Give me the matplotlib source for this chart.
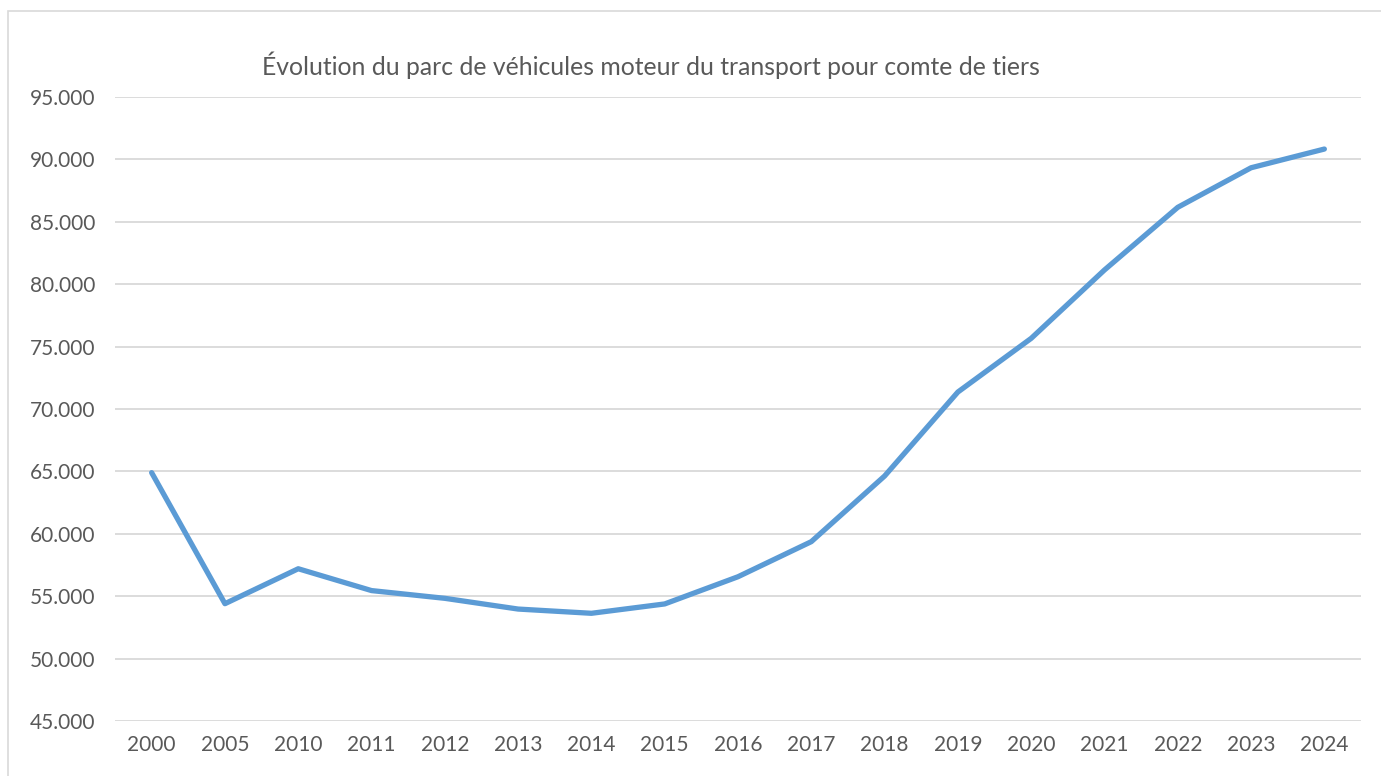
import matplotlib
matplotlib.use("Agg")
import matplotlib.pyplot as plt
from matplotlib.patches import Rectangle

# Data
years = ["2000", "2005", "2010", "2011", "2012", "2013", "2014", "2015", "2016",
         "2017", "2018", "2019", "2020", "2021", "2022", "2023", "2024"]
vehicles = [64900, 54400, 57200, 55450, 54830, 53970, 53630, 54380, 56560,
            59370, 64630, 71360, 75660, 81140, 86160, 89330, 90830]
y_ticks = [45000, 50000, 55000, 60000, 65000, 70000, 75000, 80000, 85000, 90000, 95000]
y_tick_labels = ["45.000", "50.000", "55.000", "60.000", "65.000", "70.000",
                 "75.000", "80.000", "85.000", "90.000", "95.000"]

title = "Évolution du parc de véhicules moteur du transport pour comte de tiers"

W, H = 1381, 776
plt.rcParams['font.family'] = ['Lato', 'DejaVu Sans']

fig = plt.figure(figsize=(W / 100, H / 100), dpi=100)

# chart area border
fig.patches.append(Rectangle((8 / W, -0.05), 1.2, 1 - 11 / H + 0.05, transform=fig.transFigure,
                             fill=False, edgecolor="#D9D9D9", linewidth=1.2))

# plot area in pixels
left, right, top, bottom = 115, 1361, 97, 721
ax = fig.add_axes([left / W, 1 - bottom / H, (right - left) / W, (bottom - top) / H])

x = list(range(len(years)))
ax.plot(x, vehicles, color="#5B9BD5", linewidth=3.8, solid_capstyle="round",
        solid_joinstyle="round", zorder=3)

ax.set_xlim(-0.5, len(years) - 0.5)
ax.set_ylim(45000, 95000)
ax.set_yticks(y_ticks)
ax.set_yticklabels(y_tick_labels)
ax.set_xticks(x)
ax.set_xticklabels(years)

ax.grid(axis="y", color="#D9D9D9", linewidth=1.3)
ax.set_axisbelow(True)
for s in ax.spines.values():
    s.set_visible(False)
ax.tick_params(axis="both", length=0, labelsize=15, colors="#595959")
ax.tick_params(axis="y", pad=14)
ax.tick_params(axis="x", pad=10)

fig.text(651 / W, 1 - 65 / H, title, ha="center", va="center", fontsize=17.8, color="#595959")

fig.savefig("out.png", dpi=100)
